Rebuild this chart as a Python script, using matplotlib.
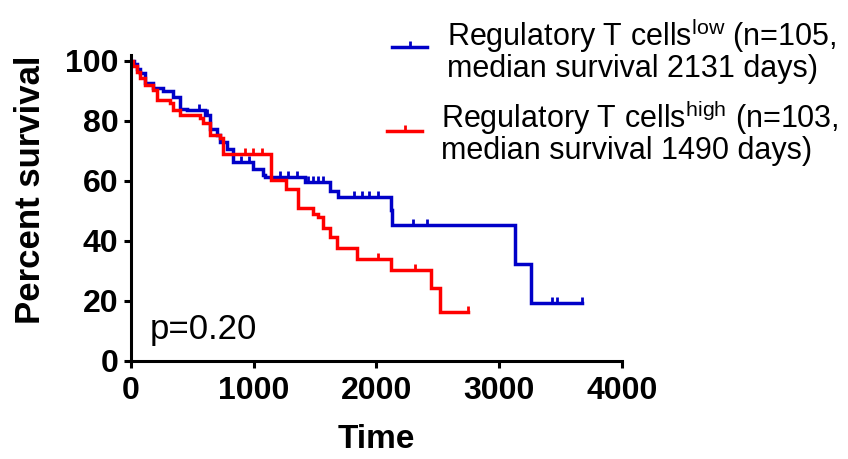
import matplotlib.pyplot as plt
import numpy as np
from matplotlib.lines import Line2D

plt.rcParams['font.family'] = 'Liberation Sans'
plt.rcParams['mathtext.fontset'] = 'custom'
plt.rcParams['mathtext.rm'] = 'Liberation Sans'

# Kaplan-Meier steps (days, percent survival after each drop)
low_t = [0, 25, 50, 73, 114, 179, 261, 342, 399, 454, 603, 644, 698, 725, 780, 833,
         996, 1075, 1092, 1417, 1621, 1689, 2116, 2126, 3128, 3256]
low_s = [100, 99, 97.5, 96, 92.6, 91, 90, 88, 84, 83.6, 82, 77.5, 75.3, 73, 70.8, 66.3,
         64, 62, 61.3, 59.6, 56.8, 54.6, 50.5, 45.2, 32.2, 19.4]
low_end = 3674
low_censor = [550, 620, 900, 960, 1214, 1279, 1350, 1442, 1483, 1523, 1564, 1817, 1879,
              1941, 2015, 2297, 2409, 3427, 3473, 3674]

high_t = [0, 20, 45, 73, 114, 182, 209, 318, 345, 399, 562, 589, 644, 725, 752, 1138,
          1263, 1363, 1485, 1526, 1567, 1621, 1676, 1839, 2116, 2448, 2517]
high_s = [100, 98.5, 96.5, 94.3, 92, 90.4, 87, 85.9, 83.7, 82, 80.9, 79.2, 75.3, 74.2,
          69.1, 60.2, 57.4, 50.9, 49, 47.9, 44.5, 41.2, 37.8, 33.9, 30.5, 24.4, 16.2]
high_end = 2745
high_censor = [929, 994, 1065, 2015, 2314, 2745]

label_lines = [['Regulatory T cells$^{\\mathrm{low}}$ (n=105,', 'median survival 2131 days)'],
               ['Regulatory T cells$^{\\mathrm{high}}$ (n=103,', 'median survival 1490 days)']]
colors = ['#0000c8', '#ff0000']

W, H = 848, 459
fig = plt.figure(figsize=(W / 100, H / 100), dpi=100)
ax = fig.add_axes([131 / W, 98 / H, 491 / W, 306 / H])

groups = [(low_t, low_s, low_end, low_censor), (high_t, high_s, high_end, high_censor)]
for (t, s, end, cens), c in zip(groups, colors):
    tt = np.append(t, end)
    ss = np.append(s, s[-1])
    ax.step(tt, ss, where='post', color=c, lw=2.5, solid_joinstyle='miter')
    idx = np.searchsorted(t, cens, side='right') - 1
    ax.plot(cens, np.array(s)[idx], ls='none', marker=2, ms=4, mew=2, color=c)

ax.set_xlim(0, 4000)
ax.set_ylim(0, 102)
ax.set_xticks([0, 1000, 2000, 3000, 4000])
ax.set_yticks([0, 20, 40, 60, 80, 100])
for sp in ['top', 'right']:
    ax.spines[sp].set_visible(False)
for sp in ['left', 'bottom']:
    ax.spines[sp].set_linewidth(2.2)
ax.tick_params(width=2.2, length=5, labelsize=23, pad=4)
ax.tick_params(axis='x', pad=6)
for lab in ax.get_xticklabels() + ax.get_yticklabels():
    lab.set_fontweight('bold')
ax.set_xlabel('Time', fontsize=24, fontweight='bold', labelpad=13)
ax.set_ylabel('Percent survival', fontsize=25, fontweight='bold', labelpad=13)
ax.yaxis.label.set_y(0.56)

ax.text(155, 7.4, 'p=0.20', fontsize=25)

# legend drawn by hand: handle line with a censor tick, two text lines
leg_pos = [  # handle x0, x1, handle y, text x, baseline 1, baseline 2 (pixels)
    (392, 427, 47, 447, 46, 77),
    (387, 422, 131, 441, 128, 159),
]
for (hx0, hx1, hy, tx, b1, b2), c, lines in zip(leg_pos, colors, label_lines):
    fig.add_artist(Line2D([hx0 / W, hx1 / W], [1 - hy / H, 1 - hy / H],
                          transform=fig.transFigure, color=c, lw=2.5))
    fig.add_artist(Line2D([(hx0 + hx1) / 2 / W], [1 - hy / H], transform=fig.transFigure,
                          ls='none', marker=2, ms=4, mew=2, color=c))
    fig.text(tx / W, 1 - b1 / H, lines[0], fontsize=22, va='baseline')
    fig.text(tx / W, 1 - b2 / H, lines[1], fontsize=22, va='baseline')

fig.savefig('out.png', dpi=100)
